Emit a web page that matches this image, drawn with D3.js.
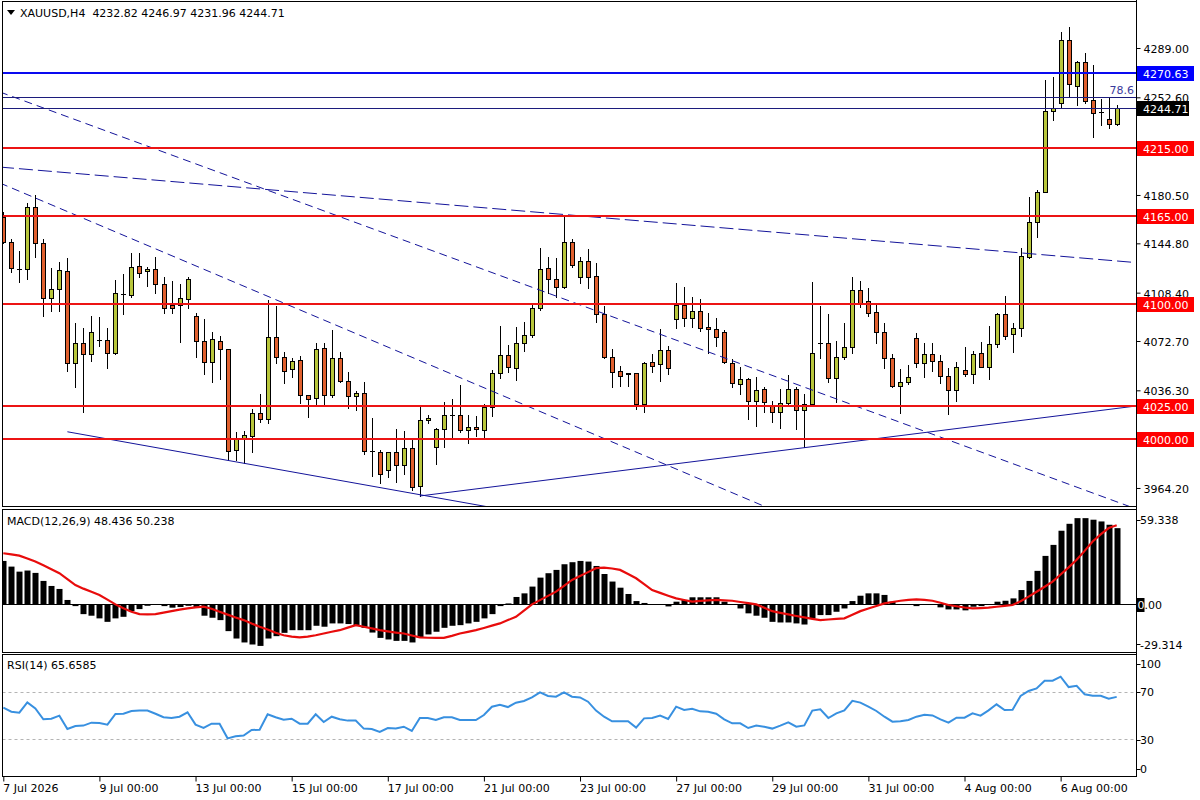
<!DOCTYPE html>
<html><head><meta charset="utf-8">
<script src="https://cdn.jsdelivr.net/npm/d3@7"></script>
<style>
body{margin:0;background:#fff}
svg{display:block}
text{font-family:"DejaVu Sans",sans-serif;font-size:11px;white-space:pre}
</style>
</head><body>
<svg id="c" width="1200" height="800"></svg>
<script>
// ---------- DATA ----------
const symbolTitle = "XAUUSD,H4  4232.82 4246.97 4231.96 4244.71";
const macdTitle = "MACD(12,26,9) 48.436 50.238";
const rsiTitle = "RSI(14) 65.6585";

const opens = [4164.5,4145.5,4126.1,4125.6,4171.9,4144.8,4104.2,4110.8,4124.4,4056.2,
4071.0,4062.9,4073.4,4073.2,4063.6,4107.4,4106.7,4128.1,4124.1,4125.6,
4114.5,4099.3,4099.3,4103.5,4091.2,4072.9,4057.4,4072.9,4066.5,3992.2,
4000.6,4002.8,4019.3,4014.9,4075.4,4060.6,4051.8,4058.4,4032.6,4030.4,
4067.3,4032.6,4059.9,4043.4,4032.1,4034.1,3991.5,3991.0,3977.5,3990.5,
3980.9,3993.5,3965.7,4014.2,3994.7,4007.5,4017.8,4017.8,4007.0,4009.0,
4007.0,4023.7,4048.8,4062.1,4052.5,4071.0,4077.1,4096.8,4126.4,4118.2,
4112.3,4146.0,4119.7,4131.8,4120.7,4092.4,4060.7,4050.6,4048.8,4048.8,
4026.0,4057.0,4055.5,4066.1,4088.7,4099.0,4089.4,4094.9,4083.0,4081.6,
4079.1,4056.7,4040.7,4044.4,4028.6,4037.0,4025.5,4020.5,4026.7,4037.3,
4021.8,4026.2,4071.0,4071.0,4045.2,4060.7,4068.5,4110.4,4102.5,4093.9,
4079.1,4059.9,4039.7,4042.2,4074.7,4056.2,4062.9,4058.2,4046.9,4036.5,
4051.3,4048.4,4063.6,4053.8,4070.5,4092.6,4077.6,4082.1,4135.0,4160.3,
4182.9,4242.5,4248.6,4294.9,4261.2,4278.7,4250.6,4241.8,4236.6,4232.82];
const highs = [4168.2,4147.8,4139.1,4174.8,4180.5,4147.8,4126.3,4131.3,4133.7,4085.7,
4082.0,4091.2,4090.7,4082.0,4117.7,4121.9,4137.4,4137.4,4127.6,4134.5,
4119.7,4117.0,4114.5,4119.7,4093.1,4088.7,4079.6,4076.4,4066.7,4005.3,
4006.5,4022.3,4033.6,4103.0,4098.5,4064.3,4060.4,4061.6,4032.8,4071.0,
4071.0,4080.8,4064.8,4049.6,4035.8,4042.2,4015.6,3992.2,3990.7,4007.5,
4006.5,4000.9,4023.7,4018.1,4008.7,4027.7,4029.9,4040.2,4018.1,4017.3,
4026.2,4051.3,4083.8,4069.8,4083.3,4086.5,4100.5,4141.1,4134.5,4134.2,
4165.7,4147.8,4135.0,4140.4,4130.0,4098.5,4066.8,4054.3,4049.3,4049.3,
4057.5,4063.1,4081.3,4069.0,4115.3,4112.3,4105.4,4103.5,4093.1,4089.4,
4080.8,4059.2,4053.8,4045.2,4046.4,4038.5,4028.6,4037.3,4047.6,4038.5,
4033.6,4116.5,4098.5,4092.6,4072.7,4086.2,4119.7,4117.3,4111.6,4100.5,
4086.2,4062.9,4051.8,4055.0,4078.8,4071.5,4071.5,4062.4,4052.5,4057.5,
4068.5,4065.3,4072.2,4083.8,4093.6,4105.9,4085.7,4141.1,4179.2,4184.2,
4265.4,4267.8,4301.1,4304.7,4279.7,4285.6,4276.5,4251.1,4253.1,4246.97];
const lows = [4144.8,4123.9,4116.0,4118.5,4135.0,4091.2,4095.1,4095.1,4050.8,4039.0,
4020.5,4058.2,4069.3,4053.0,4062.9,4092.6,4105.4,4120.2,4113.3,4107.9,
4093.6,4093.6,4072.2,4096.8,4060.6,4048.3,4042.7,4044.6,3984.9,3984.9,
3982.4,3991.0,4013.2,4012.4,4056.7,4041.9,4045.9,4026.7,4016.4,4026.2,
4026.2,4031.6,4042.2,4023.0,4021.8,3989.0,3973.0,3967.6,3972.1,3968.9,
3974.3,3962.7,3958.3,4012.4,3981.7,3994.2,4000.9,4005.3,3997.2,4002.6,
4000.1,4017.6,4045.2,4050.1,4043.9,4065.6,4075.9,4095.6,4108.4,4105.4,
4112.0,4127.6,4115.8,4111.6,4086.5,4059.9,4039.0,4039.7,4039.7,4022.3,
4020.5,4050.1,4043.4,4048.1,4082.6,4083.8,4083.3,4080.3,4064.1,4069.3,
4056.2,4039.0,4033.6,4015.1,4010.2,4020.5,4012.7,4008.7,4026.2,4007.7,
3994.7,4025.9,4060.0,4042.7,4027.4,4059.2,4064.1,4097.6,4091.4,4071.0,
4053.0,4039.0,4019.8,4040.7,4053.8,4046.4,4050.8,4041.9,4018.8,4028.7,
4046.9,4041.4,4053.6,4044.4,4068.5,4073.9,4064.3,4076.4,4133.7,4149.7,
4182.7,4235.8,4244.5,4253.1,4246.9,4248.6,4223.1,4232.2,4229.7,4231.96];
const closes = [4145.5,4126.3,4126.0,4171.9,4144.8,4104.2,4110.8,4125.1,4056.2,4071.0,
4062.9,4079.1,4073.6,4063.6,4107.9,4107.6,4127.1,4123.2,4125.6,4114.5,
4096.8,4096.8,4104.2,4118.2,4072.9,4057.4,4073.9,4066.5,3991.7,4000.1,
4003.1,4019.3,4014.9,4075.4,4060.6,4050.8,4058.0,4032.6,4029.6,4066.6,
4032.6,4059.9,4043.4,4032.1,4034.1,3991.5,3991.3,3974.3,3990.5,3980.9,
3993.5,3964.7,4014.4,4015.6,4007.5,4017.8,4017.9,4007.0,4009.0,4007.5,
4023.7,4048.8,4062.1,4053.3,4071.0,4077.1,4096.8,4126.1,4118.2,4112.3,
4146.0,4128.8,4131.8,4120.2,4092.6,4061.2,4050.1,4047.1,4048.6,4026.0,
4056.2,4054.5,4066.1,4052.5,4099.0,4089.4,4094.9,4082.6,4081.3,4075.9,
4057.0,4041.5,4044.4,4028.6,4036.5,4027.9,4020.5,4026.7,4037.0,4021.8,
4026.0,4064.1,4070.9,4045.2,4060.7,4068.0,4110.4,4100.5,4093.6,4079.1,
4059.9,4039.5,4042.2,4045.9,4056.2,4062.9,4058.2,4046.9,4036.5,4053.3,
4048.4,4062.9,4053.8,4070.5,4092.6,4076.4,4082.1,4135.5,4160.3,4182.9,
4242.5,4244.5,4294.9,4262.2,4278.7,4250.1,4240.8,4241.6,4232.6,4244.71];

const macdHist = [27.6,24.0,20.8,21.5,20.0,14.9,11.7,9.8,2.8,-1.1,
-6.2,-7.2,-8.9,-11.1,-8.9,-7.9,-4.3,-3.0,-0.9,-0.4,
-1.1,-2.1,-1.7,-0.9,-2.1,-7.2,-8.5,-10.0,-17.0,-21.7,
-24.2,-25.5,-26.4,-21.7,-20.2,-18.1,-16.4,-16.4,-16.4,-13.6,
-14.2,-12.1,-12.1,-12.5,-13.2,-14.9,-17.9,-21.3,-22.3,-23.2,
-23.2,-24.2,-21.3,-19.1,-17.4,-14.9,-13.6,-13.2,-12.1,-11.1,
-8.9,-6.2,-1.1,0.6,4.7,7.0,11.3,17.0,19.8,21.9,
25.5,26.8,27.6,27.2,24.4,19.3,14.5,10.6,6.6,2.1,
0.9,0,-0.4,-1.3,1.7,2.8,4.5,4.5,4.5,4.5,
1.7,-0.4,-2.6,-5.7,-7.2,-8.5,-11.1,-11.5,-11.5,-12.1,
-12.8,-8.9,-6.8,-6.8,-4.7,-2.6,2.1,5.5,7.0,7.0,
6.0,1.7,0,0.2,-1.1,0.2,0,-1.9,-3.2,-3.2,
-3.8,-1.5,-1.1,-0.4,1.7,2.3,3.8,9.1,14.9,21.3,
30.8,37.8,46.8,51.2,54.8,54.8,53.8,52.7,50.6,48.436];
const macdSignal = [32.5,31.8,31.0,29.2,27.2,24.8,22.3,19.8,16.0,12.3,
10.0,8.0,6.0,3.0,0,-2.5,-4.7,-6.2,-6.4,-6.2,
-5.2,-4.3,-3.3,-2.5,-1.9,-1.5,-2.8,-4.7,-6.5,-8.3,
-10.0,-12.2,-14.2,-16.0,-18.0,-19.6,-20.5,-21.0,-20.5,-19.6,
-18.5,-17.4,-16.4,-14.8,-13.2,-14.2,-15.3,-16.4,-17.2,-17.9,
-18.5,-19.8,-21.0,-21.2,-21.3,-21.3,-20.0,-18.5,-17.5,-16.4,
-15.0,-13.5,-12.1,-10.0,-7.9,-4.0,0,2.7,5.4,8.1,
11.8,15.5,18.0,20.5,23.0,23.4,22.8,21.9,19.3,16.6,
12.9,9.1,7.3,5.5,3.8,2.8,1.7,2.2,2.5,2.8,
2.6,2.3,1.5,0.8,0,-2.1,-4.3,-5.4,-6.4,-7.4,
-8.3,-9.2,-10.0,-9.6,-9.2,-8.9,-6.6,-4.3,-2.6,-1.0,
0.6,1.5,2.3,2.8,3.2,2.8,2.3,1.0,-0.4,-1.2,
-2.0,-2.6,-2.4,-2.1,-1.5,-1.0,-0.4,2.0,4.9,8.0,
11.2,14.5,19.0,23.5,28.3,34.0,40.0,44.5,48.5,50.238];
const rsiValues = [56.6,53.2,52.4,61.0,56.0,46.8,47.3,49.9,38.7,41.2,
41.5,44.0,43.7,42.3,51.3,51.5,53.8,54.1,54.1,51.5,
48.5,47.9,49.0,52.7,42.3,39.5,43.1,43.1,30.8,32.5,
33.1,37.8,38.1,51.0,48.5,46.5,47.3,43.1,43.1,51.0,
44.5,49.0,46.8,45.7,45.7,39.0,38.7,36.2,39.5,39.0,
40.6,37.0,47.9,47.9,46.2,48.5,48.5,46.2,46.2,46.2,
50.4,57.4,59.1,57.1,60.8,62.2,65.2,69.4,66.4,65.8,
69.4,65.8,65.2,61.6,54.1,49.0,45.1,45.1,45.1,39.8,
47.6,47.9,49.9,47.1,57.4,54.6,55.7,53.5,53.2,51.5,
46.8,43.4,43.4,39.5,41.5,40.6,39.0,41.5,44.3,40.6,
41.7,54.1,55.2,47.9,51.8,54.3,62.4,60.8,57.4,53.8,
49.0,44.8,45.1,46.2,49.0,50.7,50.1,46.8,44.0,48.2,
48.2,51.8,49.9,54.3,59.4,54.6,54.9,66.4,70.6,72.8,
79.2,79.2,82.6,73.9,75.0,67.8,66.6,66.6,64.1,65.6585];

const priceTicks = [4289.00,4252.60,4180.50,4144.80,4108.40,4072.70,4036.30,3964.20];
const redLevels = [4215.00,4165.00,4100.00,4025.00,4000.00];
const blueLevels = [4270.63];
const bidPrice = 4244.71;
const fibLevel = 4252.6, fibText = "78.6";
const macdTicks = [59.338, 0, -29.314];
const macdTickLabels = ["59.338","0.00","-29.314"];
const rsiLevels = [70,30];
const rsiTicks = [100,70,30,0];
const dateIdx = [0,12,24,36,48,60,72,84,96,108,120,132];
const dateLabels = ["7 Jul 2026","9 Jul 00:00","13 Jul 00:00","15 Jul 00:00","17 Jul 00:00","21 Jul 00:00","23 Jul 00:00","27 Jul 00:00","29 Jul 00:00","31 Jul 00:00","4 Aug 00:00","6 Aug 00:00"];
// trend lines as [barIndex, price] pairs
const dashedLines = [
  [[-0.41,4256.5],[142,3947.5]],
  [[-0.41,4189.3],[100,3938.2]],
];
const longDashLines = [[[-0.41,4201.1],[141.4,4130.6]]];
const solidLines = [
  [[8,4005.7],[62,3948.7]],
  [[52,3958.3],[141.4,4024.7]],
];

// ---------- DRAW ----------
const svg = d3.select('#c');
const RX = 1136.5, LX = 2.5;
const x = d3.scaleLinear().domain([0,139]).range([3.3,1116.7]);
const yP = d3.scaleLinear().domain([3950.9,4323.7]).range([506,1]);
const yM = d3.scaleLinear().domain([-29.314,59.338]).range([650.5,511]);
const yR = d3.scaleLinear().domain([0,100]).range([775,656]);
const px = i => Math.round(x(i)) + 0.5;
const snap = v => Math.round(v) + 0.5;

const defs = svg.append('defs');
defs.append('clipPath').attr('id','cpMain').append('rect').attr('x',3).attr('y',2).attr('width',1133).attr('height',504);
defs.append('clipPath').attr('id','cpMacd').append('rect').attr('x',3).attr('y',510).attr('width',1133).attr('height',142);
defs.append('clipPath').attr('id','cpRsi').append('rect').attr('x',3).attr('y',655).attr('width',1133).attr('height',121);

const bars = d3.range(opens.length).map(i => ({i,o:opens[i],h:highs[i],l:lows[i],c:closes[i]}));

// ---- main panel ----
const gMain = svg.append('g').attr('clip-path','url(#cpMain)');
gMain.selectAll('line.wick').data(bars).join('line')
  .attr('x1',d=>px(d.i)).attr('x2',d=>px(d.i))
  .attr('y1',d=>Math.round(yP(d.h))).attr('y2',d=>Math.round(yP(d.l))+1)
  .attr('stroke','#000').attr('stroke-width',1);
gMain.selectAll('rect.body').data(bars).join('rect')
  .attr('x',d=>px(d.i)-2)
  .attr('width',4)
  .attr('y',d=>snap(yP(Math.max(d.o,d.c))))
  .attr('height',d=>Math.max(Math.round(yP(Math.min(d.o,d.c)))-Math.round(yP(Math.max(d.o,d.c))),0.01))
  .attr('fill',d=>d.c>=d.o?'#b8c63c':'#e0602e')
  .attr('stroke','#000').attr('stroke-width',1);

const lineGen = d3.line().x(d=>x(d[0])).y(d=>yP(d[1]));
gMain.selectAll('path.dl').data(dashedLines).join('path')
  .attr('d',lineGen).attr('fill','none').attr('stroke','#14149a').attr('stroke-width',1).attr('stroke-dasharray','8,5');
gMain.selectAll('path.ldl').data(longDashLines).join('path')
  .attr('d',lineGen).attr('fill','none').attr('stroke','#14149a').attr('stroke-width',1).attr('stroke-dasharray','14,5');
gMain.selectAll('path.sl').data(solidLines).join('path')
  .attr('d',lineGen).attr('fill','none').attr('stroke','#14149a').attr('stroke-width',1);

// fib & bid lines
[fibLevel,bidPrice].forEach(p=>{
  gMain.append('line').attr('x1',LX).attr('x2',RX).attr('y1',snap(yP(p))).attr('y2',snap(yP(p)))
    .attr('stroke','#1c1c7c').attr('stroke-width',1);
});
gMain.append('text').attr('x',1134).attr('y',yP(fibLevel)-3).attr('text-anchor','end')
  .attr('fill','#3a3a9c').text(fibText);
// horizontal levels
gMain.selectAll('line.red').data(redLevels).join('line')
  .attr('x1',LX).attr('x2',RX).attr('y1',d=>Math.round(yP(d))).attr('y2',d=>Math.round(yP(d)))
  .attr('stroke','#ec1414').attr('stroke-width',2);
gMain.selectAll('line.blue').data(blueLevels).join('line')
  .attr('x1',LX).attr('x2',RX).attr('y1',d=>Math.round(yP(d))).attr('y2',d=>Math.round(yP(d)))
  .attr('stroke','#0a0af0').attr('stroke-width',2);

// price axis
const axP = svg.append('g').attr('transform',`translate(${RX},0)`)
  .call(d3.axisRight(yP).tickValues(priceTicks).tickFormat(d3.format('.2f')).tickSize(4).tickPadding(3));
axP.select('.domain').remove();
axP.selectAll('text').attr('dy','0.41em').attr('fill','#000').style('font-family','"DejaVu Sans",sans-serif').style('font-size','11px');
axP.selectAll('line').attr('stroke','#000');

function boxLabel(p, bg, w){
  const yc = Math.round(yP(p));
  svg.append('rect').attr('x',1137).attr('y',yc-7).attr('width',w).attr('height',15).attr('fill',bg);
  svg.append('text').attr('x',1143).attr('y',yc+4.5).attr('fill','#fff').text(d3.format('.2f')(p));
}
blueLevels.forEach(p=>boxLabel(p,'#0000ff',57));
boxLabel(bidPrice,'#000',52);
redLevels.forEach(p=>boxLabel(p,'#ff0000',57));

// header
svg.append('path').attr('d','M7,10 L15,10 L11,15 Z').attr('fill','#000');
svg.append('text').attr('x',20).attr('y',17).attr('fill','#000').text(symbolTitle);

// ---- MACD panel ----
const gM = svg.append('g').attr('clip-path','url(#cpMacd)');
gM.selectAll('rect.h').data(macdHist).join('rect')
  .attr('x',(d,i)=>Math.round(x(i))-3+0.5)
  .attr('width',6)
  .attr('y',d=>Math.min(yM(d),yM(0)))
  .attr('height',d=>Math.abs(yM(d)-yM(0)))
  .attr('fill','#000');
gM.append('line').attr('x1',LX).attr('x2',RX).attr('y1',snap(yM(0))).attr('y2',snap(yM(0))).attr('stroke','#000');
gM.append('path').datum(macdSignal)
  .attr('d',d3.line().x((d,i)=>x(i)).y(d=>yM(d)))
  .attr('fill','none').attr('stroke','#e80c0c').attr('stroke-width',2.2);
svg.append('text').attr('x',7).attr('y',525).attr('fill','#000').text(macdTitle);
// MACD axis labels
const macdLabelY = [524,609,649];
macdTicks.forEach((v,k)=>{
  svg.append('line').attr('x1',RX).attr('x2',RX+4).attr('y1',snap(k===0?520:k===2?644:yM(v))).attr('y2',snap(k===0?520:k===2?644:yM(v))).attr('stroke','#000');
});
svg.append('text').attr('x',1140).attr('y',macdLabelY[0]).text(macdTickLabels[0]);
svg.append('text').attr('x',1140).attr('y',macdLabelY[2]).text(macdTickLabels[2]);
svg.append('rect').attr('x',1137).attr('y',598).attr('width',7.5).attr('height',14).attr('fill','#000');
const zt = svg.append('text').attr('x',1137.5).attr('y',macdLabelY[1]);
zt.append('tspan').attr('fill','#fff').text(macdTickLabels[1].slice(0,1));
zt.append('tspan').attr('fill','#000').text(macdTickLabels[1].slice(1));

// ---- RSI panel ----
const gR = svg.append('g').attr('clip-path','url(#cpRsi)');
gR.selectAll('line.lv').data(rsiLevels).join('line')
  .attr('x1',LX).attr('x2',RX).attr('y1',d=>snap(yR(d))).attr('y2',d=>snap(yR(d)))
  .attr('stroke','#b4b4b4').attr('stroke-dasharray','3,3');
gR.append('path').datum(rsiValues)
  .attr('d',d3.line().x((d,i)=>x(i)).y(d=>yR(d)))
  .attr('fill','none').attr('stroke','#3890e0').attr('stroke-width',2);
svg.append('text').attr('x',7).attr('y',669).attr('fill','#000').text(rsiTitle);
const rsiLabelY = [668,696,744,773];
rsiTicks.forEach((v,k)=>{
  svg.append('text').attr('x',1140).attr('y',rsiLabelY[k]).text(String(v));
  svg.append('line').attr('x1',RX).attr('x2',RX+4).attr('y1',snap(rsiLabelY[k]-4.5)).attr('y2',snap(rsiLabelY[k]-4.5)).attr('stroke','#000');
});

// ---- frames ----
const frames = [[1.5,506.5],[509.5,652.5],[654.5,776.5]];
frames.forEach(f=>{
  svg.append('rect').attr('x',LX).attr('y',f[0]).attr('width',RX-LX).attr('height',f[1]-f[0])
    .attr('fill','none').attr('stroke','#000').attr('stroke-width',1);
});
svg.append('line').attr('x1',RX).attr('x2',RX).attr('y1',0).attr('y2',777).attr('stroke','#000');

// ---- date axis ----
const axD = svg.append('g').attr('transform','translate(0,776.5)')
  .call(d3.axisBottom(x).tickValues(dateIdx).tickFormat((d,k)=>dateLabels[k]).tickSize(5).tickPadding(3));
axD.select('.domain').remove();
axD.selectAll('line').attr('stroke','#000');
axD.selectAll('text').attr('text-anchor','start').attr('x',-0.5).attr('fill','#000')
  .style('font-family','"DejaVu Sans",sans-serif').style('font-size','11px');
</script>
</body></html>
